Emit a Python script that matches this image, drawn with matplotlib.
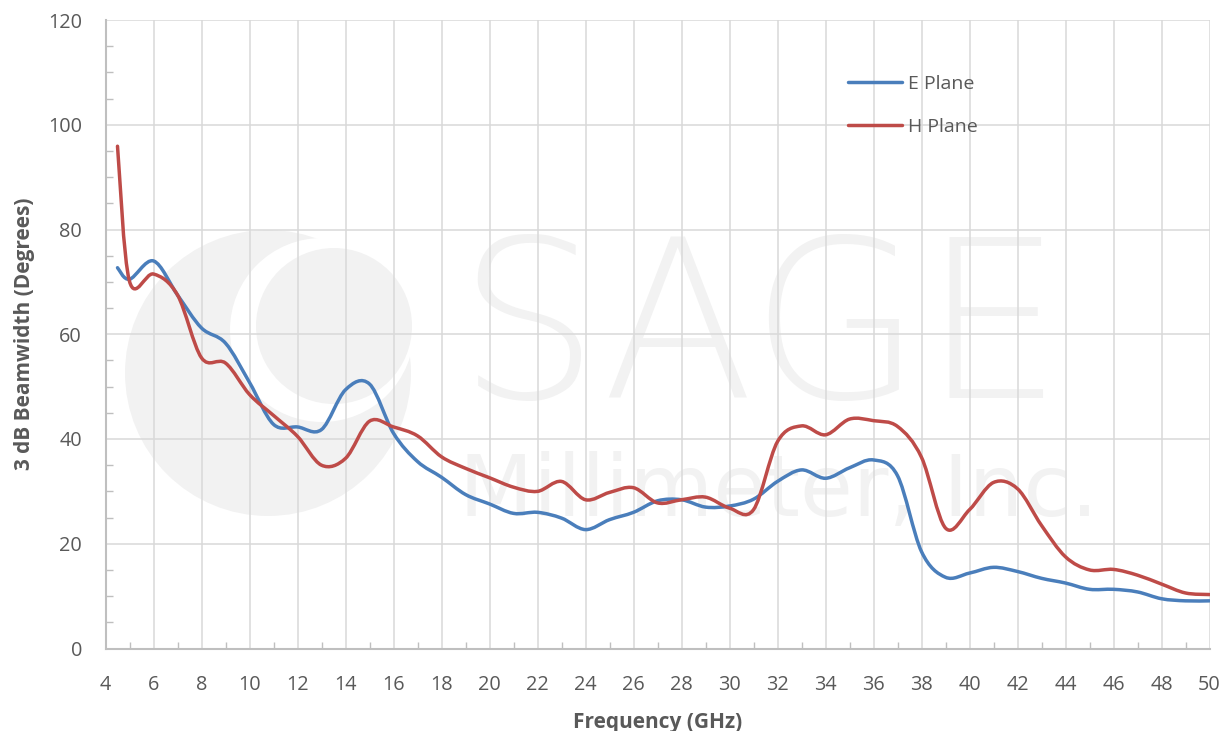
import matplotlib
matplotlib.use("Agg")
import matplotlib.pyplot as plt
from matplotlib.path import Path
from matplotlib.patches import PathPatch, Ellipse
from matplotlib.ticker import MultipleLocator
from matplotlib.lines import Line2D
import numpy as np

freq = [4.5, 5, 6, 7, 8, 9, 10, 11, 12, 13, 14, 15, 16, 17, 18, 19, 20, 21, 22, 23, 24, 25, 26, 27,
        28, 29, 30, 31, 32, 33, 34, 35, 36, 37, 38, 39, 40, 41, 42, 43, 44, 45, 46, 47, 48, 49, 50]
e_plane = [72.7, 70.5, 74.0, 67.5, 61.2, 58.3, 50.8, 42.8, 42.3, 41.8, 49.4, 50.5, 41.1, 35.7, 32.7,
           29.4, 27.6, 25.8, 26.0, 24.9, 22.7, 24.6, 26.0, 28.2, 28.4, 27.0, 27.2, 28.5, 31.9, 34.1,
           32.5, 34.5, 36.0, 33.0, 18.5, 13.6, 14.4, 15.5, 14.7, 13.4, 12.5, 11.3, 11.3, 10.8, 9.5,
           9.1, 9.1]
h_plane = [95.9, 70.1, 71.5, 67.5, 55.5, 54.5, 48.5, 44.5, 40.5, 35.0, 36.3, 43.4, 42.3, 40.6, 36.6,
           34.4, 32.6, 30.8, 30.0, 31.9, 28.4, 29.8, 30.7, 27.8, 28.4, 28.9, 26.8, 26.5, 39.5, 42.5,
           40.8, 43.8, 43.5, 42.4, 36.5, 23.0, 26.5, 31.7, 30.5, 23.5, 17.5, 15.0, 15.1, 14.0, 12.3,
           10.6, 10.3]
series_names = ["E Plane", "H Plane"]
series_colors = ["#4a7ebb", "#be4b48"]
x_ticks = list(range(4, 51, 2))
y_ticks = list(range(0, 121, 20))

plt.rcParams['font.family'] = ['Open Sans', 'DejaVu Sans']

W, H = 1228, 731
fig = plt.figure(figsize=(W / 100, H / 100), dpi=100)
ax = fig.add_axes([105.5 / W, 1 - 648.5 / H, (1209.5 - 105.5) / W, (648.5 - 20) / H])
ax.set_facecolor("white")


def fx(px):
    return px / W


def fy(py):
    return 1 - py / H


# faint watermark (drawn inside the axes, beneath the grid)
wm = "#f2f2f2"
for (cx, cy, r, c) in [(268, 373, 143, wm), (322, 330, 92, "white"), (334, 326, 78, wm)]:
    e = Ellipse((fx(cx), fy(cy)), 2 * r / W, 2 * r / H, transform=fig.transFigure,
                color=c, zorder=0.1, lw=0)
    ax.add_patch(e)
    e.set_clip_on(False)
ax.text(fx(760), fy(398), "SAGE", fontsize=160, color=wm, ha="center", va="baseline",
        family="DejaVu Sans", fontweight="light", transform=fig.transFigure, zorder=0.1)
ax.text(fx(779), fy(516), "Millimeter, Inc.", fontsize=62, color=wm, ha="center", va="baseline",
        family="DejaVu Sans", transform=fig.transFigure, zorder=0.1)


def smooth_path(xs, ys):
    pts = np.column_stack([xs, ys])
    n = len(pts)
    verts = [pts[0]]
    codes = [Path.MOVETO]
    for i in range(n - 1):
        p0 = pts[i - 1] if i > 0 else pts[i]
        p1 = pts[i]
        p2 = pts[i + 1]
        p3 = pts[i + 2] if i + 2 < n else pts[i + 1]
        c1 = p1 + (p2 - p0) / 6.0
        c2 = p2 - (p3 - p1) / 6.0
        verts += [c1, c2, p2]
        codes += [Path.CURVE4] * 3
    return Path(verts, codes)


for ys, col in zip([e_plane, h_plane], series_colors):
    patch = PathPatch(smooth_path(freq, ys), facecolor="none", edgecolor=col, lw=2.5,
                      capstyle="round", joinstyle="round", zorder=3)
    ax.add_patch(patch)

ax.set_xlim(4, 50)
ax.set_ylim(0, 120)
ax.set_xticks(x_ticks)
ax.set_yticks(y_ticks)
ax.xaxis.set_minor_locator(MultipleLocator(1))
ax.yaxis.set_minor_locator(MultipleLocator(5))
ax.grid(True, which="major", color="#d9d9d9", lw=1.1, zorder=0.5)
ax.set_axisbelow(True)
for s in ["top", "right"]:
    ax.spines[s].set_visible(False)
for s in ["left", "bottom"]:
    ax.spines[s].set_color("#bfbfbf")
    ax.spines[s].set_linewidth(1.5)
ax.tick_params(which="both", direction="in", color="#bfbfbf", labelcolor="#595959",
               labelsize=14.3)
ax.tick_params(axis="y", pad=17)
ax.tick_params(axis="x", pad=19)
ax.tick_params(which="major", length=0)
ax.tick_params(which="minor", length=5, width=1)
ax.set_xlabel("Frequency (GHz)", fontsize=15, fontweight="bold", color="#595959", labelpad=12)
ax.set_ylabel("3 dB Beamwidth (Degrees)", fontsize=15, fontweight="bold", color="#595959",
              labelpad=9)

handles = [Line2D([], [], color=c, lw=2.5, solid_capstyle="round") for c in series_colors]
leg = fig.legend(handles, series_names, loc="upper left", bbox_to_anchor=(fx(848), fy(75)),
                 frameon=False, fontsize=14, handlelength=2.8, handletextpad=0.3,
                 labelspacing=1.3, borderpad=0, borderaxespad=0)
for t in leg.get_texts():
    t.set_color("#595959")

fig.savefig("out.png", dpi=100)
